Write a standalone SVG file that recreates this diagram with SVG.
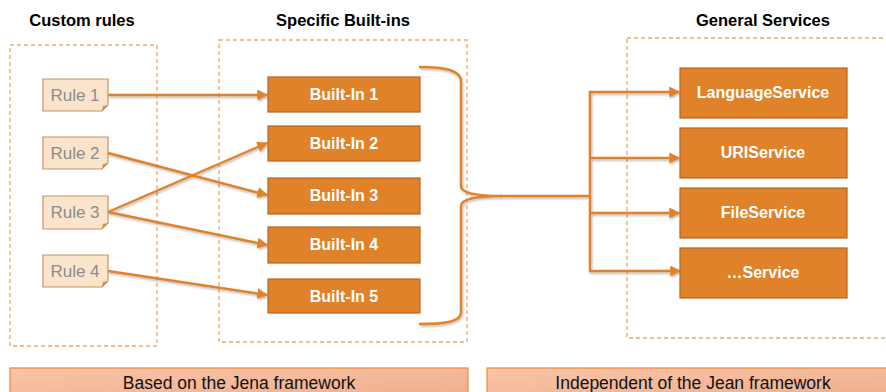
<svg xmlns="http://www.w3.org/2000/svg" width="886" height="392" viewBox="0 0 886 392">
  <defs>
    <style>
      .title { font-family: "Liberation Sans", Arial, sans-serif; font-weight: bold; font-size: 16.5px; fill: #000; text-anchor: middle; }
      .frame { fill: none; stroke: #f0a868; stroke-width: 1.3; stroke-dasharray: 4 3; }
      .note { fill: #fbe4cc; stroke: #c8935e; stroke-width: 1.2; }
      .notetxt { font-family: "Liberation Sans", Arial, sans-serif; font-size: 17px; fill: #8c8c8c; text-anchor: middle; }
      .box { fill: #e0822a; stroke: #b8631e; stroke-width: 1.2; }
      .boxtxt { font-family: "Liberation Sans", Arial, sans-serif; font-weight: bold; font-size: 16px; fill: #fff; text-anchor: middle; }
      .link { fill: none; stroke: #e0822a; stroke-width: 2.4; }
      .bar { fill: url(#barfill); stroke: #ea8a3e; stroke-width: 1.2; }
      .bartxt { font-family: "Liberation Sans", Arial, sans-serif; font-size: 17.5px; fill: #111; text-anchor: middle; }
    </style>
    <linearGradient id="barfill" x1="0" y1="0" x2="1" y2="1">
      <stop offset="0" stop-color="#f9c4a8"/>
      <stop offset="1" stop-color="#eeae8e"/>
    </linearGradient>
    <filter id="shade" x="-10%" y="-50%" width="120%" height="200%">
      <feDropShadow dx="1" dy="1.5" stdDeviation="1" flood-color="#000" flood-opacity="0.3"/>
    </filter>
    <marker id="arrow" viewBox="0 0 10 10" refX="9" refY="5" markerWidth="4.5" markerHeight="4.5" orient="auto" markerUnits="strokeWidth">
      <path d="M0,0 L10,5 L0,10 z" fill="#e0822a"/>
    </marker>
  </defs>

  <rect width="886" height="392" fill="#fff"/>

  <!-- column headings -->
  <text class="title" x="82" y="26">Custom rules</text>
  <text class="title" x="343" y="26">Specific Built-ins</text>
  <text class="title" x="763" y="26">General Services</text>

  <!-- dashed column frames -->
  <rect class="frame" x="10" y="45" width="147" height="301"/>
  <rect class="frame" x="219" y="40" width="248" height="302"/>
  <rect class="frame" x="627" y="38" width="280" height="300"/>

  <!-- connectors -->
  <g id="connectors" filter="url(#shade)">
    <line class="link" x1="108" y1="95" x2="267" y2="95" marker-end="url(#arrow)"/>
    <line class="link" x1="108" y1="153" x2="267" y2="195" marker-end="url(#arrow)"/>
    <line class="link" x1="108" y1="212" x2="267" y2="143" marker-end="url(#arrow)"/>
    <line class="link" x1="108" y1="212" x2="267" y2="245" marker-end="url(#arrow)"/>
    <line class="link" x1="108" y1="271" x2="267" y2="295" marker-end="url(#arrow)"/>
    <!-- curly brace gathering the built-ins -->
    <path class="link" d="M419,67 C445,67 461,70 461,82 L461,186 C461,194 480,196 502,196 C480,196 461,198 461,206 L461,312 C461,322 445,324 419,324"/>
    <!-- fan-out to the services -->
    <path class="link" d="M500,196 L590,196 M590,91 L590,272"/>
    <line class="link" x1="589" y1="92" x2="679" y2="92" marker-end="url(#arrow)"/>
    <line class="link" x1="589" y1="158" x2="679" y2="158" marker-end="url(#arrow)"/>
    <line class="link" x1="589" y1="213" x2="679" y2="213" marker-end="url(#arrow)"/>
    <line class="link" x1="589" y1="271" x2="680" y2="271" marker-end="url(#arrow)"/>
  </g>

  <!-- custom rules -->
  <g id="rule1">
    <path class="note" d="M43,79 H108 V105 L102,111 H43 Z"/>
    <path d="M102,111 L103,106 L108,105" fill="#c8935e"/>
    <text class="notetxt" x="75" y="101">Rule 1</text>
  </g>
  <g id="rule2">
    <path class="note" d="M43,137 H108 V163 L102,169 H43 Z"/>
    <path d="M102,169 L103,164 L108,163" fill="#c8935e"/>
    <text class="notetxt" x="75" y="159">Rule 2</text>
  </g>
  <g id="rule3">
    <path class="note" d="M43,196 H108 V223 L102,229 H43 Z"/>
    <path d="M102,229 L103,224 L108,223" fill="#c8935e"/>
    <text class="notetxt" x="75" y="218">Rule 3</text>
  </g>
  <g id="rule4">
    <path class="note" d="M43,255 H108 V281 L102,287 H43 Z"/>
    <path d="M102,287 L103,282 L108,281" fill="#c8935e"/>
    <text class="notetxt" x="75" y="277">Rule 4</text>
  </g>

  <!-- specific built-ins -->
  <g id="builtin1">
    <rect class="box" x="268" y="77" width="152" height="35"/>
    <text class="boxtxt" x="344" y="100">Built-In 1</text>
  </g>
  <g id="builtin2">
    <rect class="box" x="268" y="126" width="152" height="35"/>
    <text class="boxtxt" x="344" y="149">Built-In 2</text>
  </g>
  <g id="builtin3">
    <rect class="box" x="268" y="178" width="152" height="36"/>
    <text class="boxtxt" x="344" y="201">Built-In 3</text>
  </g>
  <g id="builtin4">
    <rect class="box" x="268" y="227" width="152" height="36"/>
    <text class="boxtxt" x="344" y="250">Built-In 4</text>
  </g>
  <g id="builtin5">
    <rect class="box" x="268" y="279" width="152" height="34"/>
    <text class="boxtxt" x="344" y="302">Built-In 5</text>
  </g>

  <!-- general services -->
  <g id="languageService">
    <rect class="box" x="680" y="68" width="167" height="50"/>
    <text class="boxtxt" x="763" y="98">LanguageService</text>
  </g>
  <g id="uriService">
    <rect class="box" x="680" y="128" width="167" height="50"/>
    <text class="boxtxt" x="763" y="158">URIService</text>
  </g>
  <g id="fileService">
    <rect class="box" x="680" y="188" width="167" height="50"/>
    <text class="boxtxt" x="763" y="218">FileService</text>
  </g>
  <g id="otherService">
    <rect class="box" x="680" y="248" width="167" height="50"/>
    <text class="boxtxt" x="763" y="278">…Service</text>
  </g>

  <!-- framework bands -->
  <g id="jenaBand">
    <rect class="bar" x="10" y="368" width="458" height="30"/>
    <text class="bartxt" x="239" y="389">Based on the Jena framework</text>
  </g>
  <g id="independentBand">
    <rect class="bar" x="487" y="368" width="410" height="30"/>
    <text class="bartxt" x="693" y="389">Independent of the Jean framework</text>
  </g>
</svg>
